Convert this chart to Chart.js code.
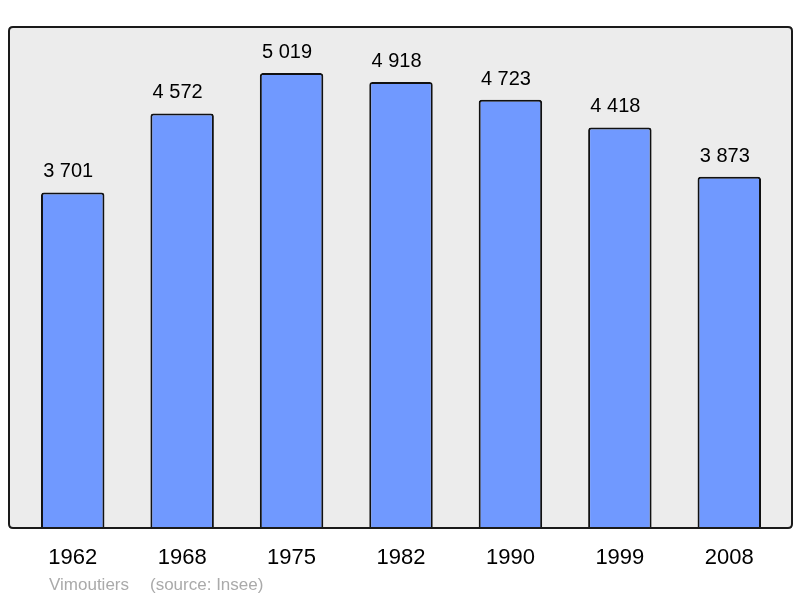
<!DOCTYPE html>
<html><head><meta charset="utf-8">
<script src="https://cdn.jsdelivr.net/npm/chart.js@4/dist/chart.umd.min.js"></script>
<style>html,body{margin:0;padding:0;background:#fff}#wrap{width:800px;height:598px}</style>
</head><body><div id="wrap"><canvas id="c" width="800" height="598"></canvas></div>
<script>
const years = ['1962','1968','1975','1982','1990','1999','2008'];
const population = [3701, 4572, 5019, 4918, 4723, 4418, 3873];
const valueLabels = ['3 701','4 572','5 019','4 918','4 723','4 418','3 873'];
const sourceLabel = 'Vimoutiers';
const sourceNote = '(source: Insee)';

const FONT = '"Liberation Sans", Arial, sans-serif';

function roundRect(ctx, x, y, w, h, r){
  ctx.beginPath();
  ctx.moveTo(x+r, y);
  ctx.lineTo(x+w-r, y); ctx.quadraticCurveTo(x+w, y, x+w, y+r);
  ctx.lineTo(x+w, y+h-r); ctx.quadraticCurveTo(x+w, y+h, x+w-r, y+h);
  ctx.lineTo(x+r, y+h); ctx.quadraticCurveTo(x, y+h, x, y+h-r);
  ctx.lineTo(x, y+r); ctx.quadraticCurveTo(x, y, x+r, y);
  ctx.closePath();
}

const deco = {
  id: 'deco',
  beforeDatasetsDraw(chart){
    const {ctx, chartArea: a} = chart;
    ctx.save();
    roundRect(ctx, a.left-9, a.top, (a.right+8)-(a.left-9), a.bottom-a.top, 4);
    ctx.fillStyle = '#ececec';
    ctx.fill();
    ctx.restore();
  },
  afterDatasetsDraw(chart){
    const {ctx, chartArea: a, scales} = chart;
    ctx.save();
    roundRect(ctx, a.left-9, a.top, (a.right+8)-(a.left-9), a.bottom-a.top, 4);
    ctx.lineWidth = 2;
    ctx.strokeStyle = '#1a1a1a';
    ctx.stroke();
    const meta = chart.getDatasetMeta(0);
    ctx.fillStyle = '#000';
    ctx.textAlign = 'center';
    ctx.textBaseline = 'alphabetic';
    ctx.font = '20px ' + FONT;
    meta.data.forEach((bar, i) => {
      ctx.fillText(valueLabels[i], bar.x - 4.5, scales.y.getPixelForValue(population[i]) - 15);
    });
    ctx.font = '22px ' + FONT;
    years.forEach((yr, i) => {
      ctx.fillText(yr, scales.x.getPixelForValue(i), a.bottom + 36);
    });
    ctx.fillStyle = '#aaaaaa';
    ctx.textAlign = 'left';
    ctx.font = '17px ' + FONT;
    ctx.fillText(sourceLabel, 49, 590);
    ctx.fillText(sourceNote, 150, 590);
    ctx.restore();
  }
};

new Chart(document.getElementById('c'), {
  type: 'bar',
  data: {
    labels: years,
    datasets: [{
      data: population,
      backgroundColor: '#7099ff',
      borderColor: '#111',
      borderWidth: 2,
      borderRadius: 3,
      borderSkipped: 'bottom',
      categoryPercentage: 1,
      barPercentage: 0.58
    }]
  },
  plugins: [deco],
  options: {
    responsive: false,
    animation: false,
    devicePixelRatio: 1,
    layout: { padding: { left: 18, right: 16, top: 27, bottom: 70 } },
    plugins: { legend: { display: false }, tooltip: { enabled: false } },
    scales: {
      x: { display: false },
      y: { display: false, min: 0, max: 5526 }
    }
  }
});
</script></body></html>
